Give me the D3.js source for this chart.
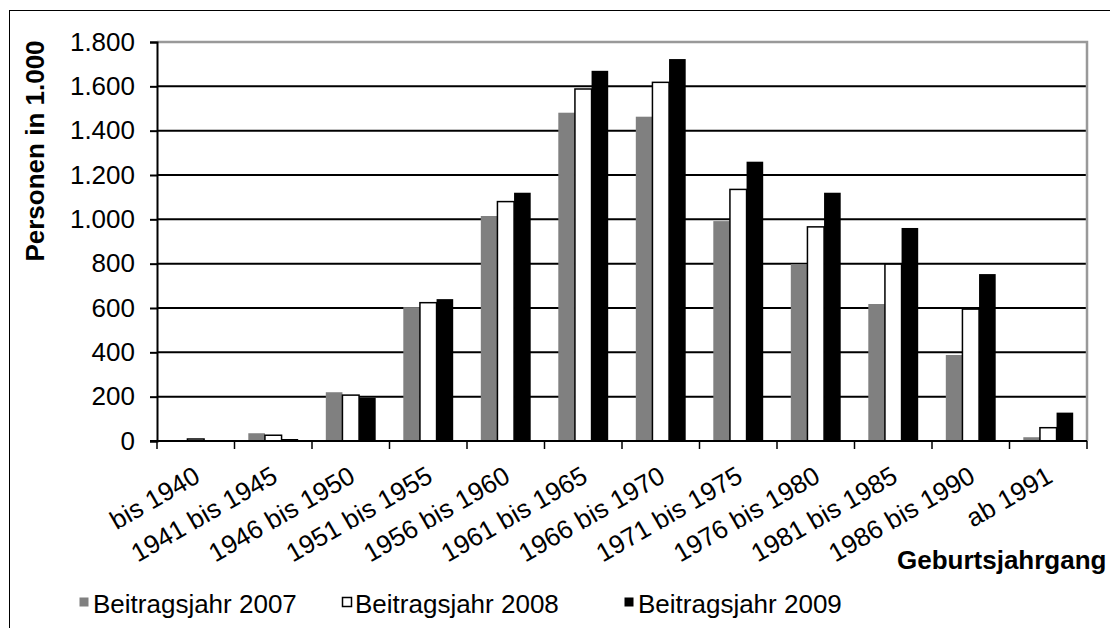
<!DOCTYPE html>
<html>
<head>
<meta charset="utf-8">
<script src="https://cdn.jsdelivr.net/npm/d3@7"></script>
<style>
  body { margin: 0; background: #fff; }
  svg { display: block; font-family: "Liberation Sans", Arial, sans-serif; }
</style>
</head>
<body>
<svg id="chart" width="1110" height="628"></svg>
<script>
//Data
var categories = ["bis 1940", "1941 bis 1945", "1946 bis 1950", "1951 bis 1955", "1956 bis 1960",
                  "1961 bis 1965", "1966 bis 1970", "1971 bis 1975", "1976 bis 1980",
                  "1981 bis 1985", "1986 bis 1990", "ab 1991"];
var seriesNames = ["Beitragsjahr 2007", "Beitragsjahr 2008", "Beitragsjahr 2009"];
var values2007 = [1, 35, 220, 604, 1015, 1481, 1463, 992, 798, 618, 388, 17];
var values2008 = [9, 26, 207, 624, 1080, 1588, 1618, 1135, 966, 798, 595, 60];
var values2009 = [4, 9, 195, 640, 1120, 1670, 1723, 1260, 1120, 961, 753, 128];
var yTicks = [0, 200, 400, 600, 800, 1000, 1200, 1400, 1600, 1800];

var seriesValues = [values2007, values2008, values2009];
var fills = ["#808080", "#ffffff", "#000000"];
var strokes = ["none", "#000000", "none"];

//Dimensions
var dimensions = {
    width: 1110,
    height: 628,
    margin: { top: 42, bottom: 187, left: 157, right: 23 }
};
var plotBottom = dimensions.height - dimensions.margin.bottom;
var plotRight = dimensions.width - dimensions.margin.right;

var svg = d3.select("#chart");

//Outer frame
svg.append("rect")
   .attr("x", 9.5).attr("y", 10.5)
   .attr("width", 1300).attr("height", 800)
   .style("fill", "white")
   .style("stroke", "#000")
   .style("stroke-width", 1);

var de = d3.formatLocale({ decimal: ",", thousands: ".", grouping: [3], currency: ["", "€"] });

//Scales
var xScale = d3.scaleBand()
               .domain(categories)
               .range([dimensions.margin.left, plotRight])
               .padding(0);

var xInner = d3.scaleBand()
               .domain(seriesNames)
               .range([0, xScale.bandwidth()])
               .paddingInner(0)
               .paddingOuter(0.83);

var yScale = d3.scaleLinear()
               .domain([0, 1800])
               .range([plotBottom, dimensions.margin.top]);

//Gridlines
svg.append("g")
   .selectAll("line")
   .data(yTicks.filter(function(d){ return d > 0 && d < 1800; }))
   .enter()
   .append("line")
   .attr("x1", dimensions.margin.left)
   .attr("x2", plotRight)
   .attr("y1", function(d){ return yScale(d); })
   .attr("y2", function(d){ return yScale(d); })
   .style("stroke", "#000")
   .style("stroke-width", 2);

//Plot border top/right (gray)
svg.append("path")
   .attr("d", "M" + dimensions.margin.left + "," + yScale(1800) + "H" + plotRight + "V" + plotBottom)
   .style("fill", "none")
   .style("stroke", "#999")
   .style("stroke-width", 2.5);

//Bars
var groups = svg.append("g")
                .selectAll("g")
                .data(seriesNames)
                .enter()
                .append("g");

groups.each(function(name, si){
    d3.select(this)
      .selectAll("rect")
      .data(seriesValues[si])
      .enter()
      .append("rect")
      .attr("x", function(d, i){ return xScale(categories[i]) + xInner(name); })
      .attr("y", function(d){ return yScale(d); })
      .attr("width", xInner.bandwidth())
      .attr("height", function(d){ return yScale(0) - yScale(d); })
      .style("fill", fills[si])
      .style("stroke", strokes[si])
      .style("stroke-width", 1.5);
});

//Y-axis
var yAxisGen = d3.axisLeft(yScale)
                 .tickValues(yTicks)
                 .tickSize(7)
                 .tickPadding(15)
                 .tickFormat(de.format(",d"));
var yAxis = svg.append("g")
               .attr("transform", "translate(" + dimensions.margin.left + ",0)")
               .call(yAxisGen);
yAxis.select(".domain").style("stroke-width", 2);
yAxis.selectAll(".tick line").style("stroke-width", 2);
yAxis.selectAll("text")
     .style("font-size", "26px")
     .style("font-family", "'Liberation Sans', Arial, sans-serif")
     .style("fill", "#000");

//X-axis line and ticks at category borders
svg.append("line")
   .attr("x1", dimensions.margin.left - 7).attr("x2", plotRight)
   .attr("y1", plotBottom).attr("y2", plotBottom)
   .style("stroke", "#000").style("stroke-width", 2);

var borders = categories.map(function(c){ return xScale(c); }).concat([plotRight]);
svg.append("g")
   .selectAll("line")
   .data(borders)
   .enter()
   .append("line")
   .attr("x1", function(d){ return d; })
   .attr("x2", function(d){ return d; })
   .attr("y1", plotBottom)
   .attr("y2", plotBottom + 8)
   .style("stroke", "#000")
   .style("stroke-width", 1.5);

//X labels
svg.append("g")
   .selectAll("text")
   .data(categories)
   .enter()
   .append("text")
   .attr("transform", function(d){
       return "translate(" + (xScale(d) + xScale.bandwidth() / 2 + 6) + "," + (plotBottom + 40) + ") rotate(-30)";
   })
   .attr("text-anchor", "end")
   .style("font-size", "26px")
   .text(function(d){ return d; });

//Y title
svg.append("text")
   .attr("transform", "translate(44,151) rotate(-90)")
   .attr("text-anchor", "middle")
   .style("font-size", "26px")
   .style("font-weight", "bold")
   .text("Personen in 1.000");

//X title
svg.append("text")
   .attr("x", 897)
   .attr("y", 569)
   .style("font-size", "26px")
   .style("font-weight", "bold")
   .text("Geburtsjahrgang");

//Legend
var legendX = [79, 342, 624];
var legend = svg.append("g")
                .selectAll("g")
                .data(seriesNames)
                .enter()
                .append("g")
                .attr("transform", function(d, i){ return "translate(" + legendX[i] + ",597)"; });
legend.append("rect")
      .attr("x", 0.5).attr("y", 0.5)
      .attr("width", 9).attr("height", 9)
      .style("fill", function(d, i){ return fills[i]; })
      .style("stroke", function(d, i){ return i === 1 ? "#000" : "none"; })
      .style("stroke-width", 1.5);
legend.append("text")
      .attr("x", function(d, i){ return i === 1 ? 13 : 14; })
      .attr("y", 16)
      .style("font-size", "26px")
      .text(function(d){ return d; });
</script>
</body>
</html>
